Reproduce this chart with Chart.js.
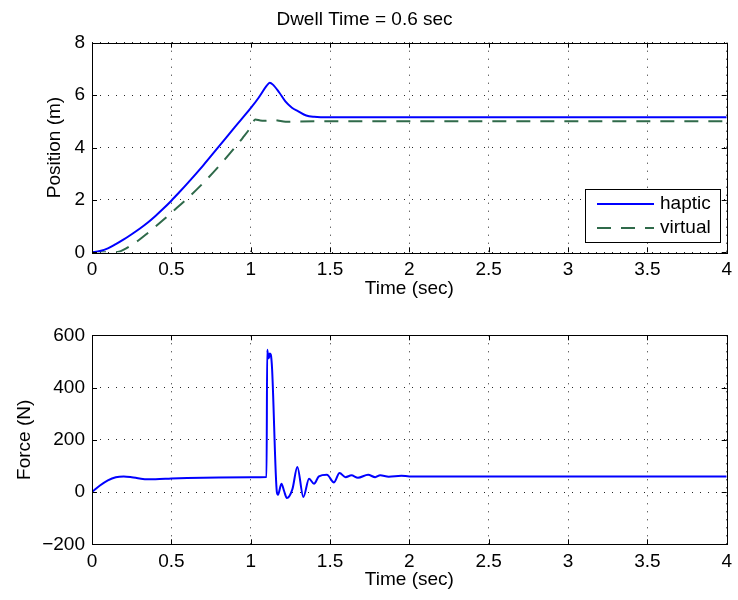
<!DOCTYPE html>
<html>
<head>
<meta charset="utf-8">
<script src="https://cdn.jsdelivr.net/npm/chart.js@4.4.1/dist/chart.umd.min.js"></script>
<style>
html,body{margin:0;padding:0;background:#fff;}
#wrap{position:relative;width:738px;height:600px;}
#c1{position:absolute;left:0;top:0;}
#c2{position:absolute;left:0;top:300px;}
</style>
</head>
<body>
<div id="wrap">
<canvas id="c1" width="738" height="300"></canvas>
<canvas id="c2" width="738" height="300"></canvas>
</div>
<script>
// ---- data ----
const chartTitle = "Dwell Time = 0.6 sec";
const seriesNames = ["haptic", "virtual"];
const xTickValues = [0, 0.5, 1, 1.5, 2, 2.5, 3, 3.5, 4];
const xTickLabels = ["0", "0.5", "1", "1.5", "2", "2.5", "3", "3.5", "4"];
const posTickValues = [0, 2, 4, 6, 8];
const posTickLabels = ["0", "2", "4", "6", "8"];
const forceTickValues = [-200, 0, 200, 400, 600];
const forceTickLabels = ["\u2212200", "0", "200", "400", "600"];

const hapticT   = [0, 0.05, 0.1, 0.15, 0.2, 0.25, 0.3, 0.35, 0.4, 0.45, 0.5, 0.55, 0.6, 0.7, 0.8, 0.9, 1.0, 1.05, 1.1, 1.12, 1.14, 1.18, 1.22, 1.26, 1.3, 1.35, 1.4, 1.5, 2, 3, 4];
const hapticPos = [0, 0.05, 0.15, 0.31, 0.49, 0.69, 0.9, 1.13, 1.39, 1.67, 1.97, 2.29, 2.62, 3.31, 4.04, 4.78, 5.5, 5.9, 6.35, 6.47, 6.4, 6.1, 5.75, 5.52, 5.38, 5.22, 5.17, 5.15, 5.15, 5.15, 5.15];

const virtualT   = [0, 0.1, 0.15, 0.176, 0.2, 0.25, 0.3, 0.35, 0.4, 0.45, 0.5, 0.6, 0.7, 0.8, 0.9, 0.95, 1.0, 1.03, 1.06, 1.09, 1.13, 1.17, 1.22, 1.3, 1.5, 2, 3, 4];
const virtualPos = [0, 0, 0, 0.03, 0.1, 0.28, 0.49, 0.73, 0.98, 1.24, 1.51, 2.05, 2.64, 3.29, 4.0, 4.37, 4.77, 5.07, 5.03, 5.02, 5.06, 5.03, 4.98, 4.99, 5.0, 5.0, 5.0, 5.0];

const forceT = [0, 0.05, 0.1, 0.15, 0.2, 0.25, 0.3, 0.35, 0.4, 0.5, 0.6, 0.8, 1.0, 1.1, 1.104, 1.11, 1.115, 1.12, 1.127, 1.135, 1.165, 1.172, 1.194, 1.21, 1.228, 1.263, 1.294, 1.332, 1.368, 1.399, 1.43, 1.48, 1.525, 1.56, 1.598, 1.635, 1.676, 1.74, 1.785, 1.816, 1.87, 1.95, 2.0, 3.0, 4.0];
const force  = [0, 25, 45, 57, 60, 57, 52, 49, 49, 52, 54, 56, 57, 58, 545, 520, 512, 530, 525, 470, 0, -10, 32, 5, -23, 11, 96, -19, 51, 32, 60, 66, 37, 73, 57, 64, 55, 66, 57, 64, 59, 62, 60, 60, 60];

// ---- helpers ----
const FONT = "'Liberation Sans', Arial, Helvetica, sans-serif";
Chart.defaults.font.family = FONT;
Chart.defaults.color = '#000';

function pts(xs, ys) { return xs.map((x, i) => ({x: x, y: ys[i]})); }

const boxPlugin = {
  id: 'matlabBox',
  afterDatasetsDraw(chart) {
    const ctx = chart.ctx, a = chart.chartArea;
    const xs = chart.scales.x, ys = chart.scales.y;
    ctx.save();
    ctx.setLineDash([]);
    ctx.strokeStyle = '#000';
    ctx.lineWidth = 1;
    ctx.strokeRect(Math.round(a.left) + 0.5, Math.round(a.top) + 0.5, Math.round(a.right - a.left), Math.round(a.bottom - a.top));
    const tl = 5;
    ctx.beginPath();
    xs.ticks.forEach(t => {
      const px = Math.round(xs.getPixelForValue(t.value)) + 0.5;
      ctx.moveTo(px, a.bottom); ctx.lineTo(px, a.bottom - tl);
      ctx.moveTo(px, a.top); ctx.lineTo(px, a.top + tl);
    });
    ys.ticks.forEach(t => {
      const py = Math.round(ys.getPixelForValue(t.value)) + 0.5;
      ctx.moveTo(a.left, py); ctx.lineTo(a.left + tl, py);
      ctx.moveTo(a.right, py); ctx.lineTo(a.right - tl, py);
    });
    ctx.stroke();

    const lg = chart.options.plugins.matlabBox && chart.options.plugins.matlabBox.legend;
    if (lg) {
      const bx = lg.x, by = lg.y, bw = lg.w, bh = lg.h;
      ctx.fillStyle = '#fff';
      ctx.fillRect(bx, by, bw, bh);
      ctx.strokeStyle = '#000';
      ctx.lineWidth = 1;
      ctx.strokeRect(bx + 0.5, by + 0.5, bw, bh);
      ctx.font = '19px ' + FONT;
      ctx.textBaseline = 'middle';
      ctx.textAlign = 'left';
      chart.data.datasets.forEach((ds, i) => {
        const yy = by + lg.rowY[i];
        ctx.strokeStyle = ds.borderColor;
        ctx.lineWidth = ds.borderWidth;
        ctx.setLineDash(ds.borderDash || []);
        ctx.beginPath();
        ctx.moveTo(bx + lg.lineX0, yy);
        ctx.lineTo(bx + lg.lineX1, yy);
        ctx.stroke();
        ctx.setLineDash([]);
        ctx.fillStyle = '#000';
        ctx.fillText(ds.label, bx + lg.textX, yy);
      });
    }
    ctx.restore();
  }
};

function xScale(heightPx, titlePadBottom) {
  return {
    type: 'linear', min: 0, max: 4,
    afterBuildTicks: (s) => { s.ticks = xTickValues.map(v => ({value: v})); },
    afterFit: (s) => { s.height = heightPx; },
    ticks: {
      font: {size: 19}, padding: 6, maxRotation: 0, autoSkip: false,
      callback: (v) => { const i = xTickValues.indexOf(v); return i >= 0 ? xTickLabels[i] : ''; }
    },
    grid: { color: 'rgba(0,0,0,0.85)', lineWidth: 1, drawTicks: false },
    border: { display: false, dash: [1, 7] },
    title: { display: true, text: 'Time (sec)', font: {size: 19}, padding: {top: 0, bottom: titlePadBottom} }
  };
}

function yScale(min, max, vals, labels, titleText, titlePadTop) {
  return {
    type: 'linear', min: min, max: max,
    afterBuildTicks: (s) => { s.ticks = vals.map(v => ({value: v})); },
    afterFit: (s) => { s.width = 92; },
    ticks: {
      font: {size: 19}, padding: 7, autoSkip: false,
      callback: (v) => { const i = vals.indexOf(v); return i >= 0 ? labels[i] : ''; }
    },
    grid: { color: 'rgba(0,0,0,0.85)', lineWidth: 1, drawTicks: false },
    border: { display: false, dash: [1, 7] },
    title: { display: true, text: titleText, font: {size: 19}, padding: {top: titlePadTop, bottom: 0} }
  };
}

// ---- top chart ----
new Chart(document.getElementById('c1'), {
  type: 'line',
  data: {
    datasets: [
      { label: seriesNames[0], data: pts(hapticT, hapticPos), borderColor: '#0000ff', borderWidth: 2, pointRadius: 0, cubicInterpolationMode: 'monotone', fill: false },
      { label: seriesNames[1], data: pts(virtualT, virtualPos), borderColor: '#2f6a4a', borderWidth: 2, borderDash: [14, 10], pointRadius: 0, cubicInterpolationMode: 'monotone', fill: false }
    ]
  },
  options: {
    responsive: false, animation: false, devicePixelRatio: 1,
    layout: { padding: { left: 0, right: 9, top: 0, bottom: 0 } },
    plugins: {
      legend: { display: false },
      tooltip: { enabled: false },
      title: { display: true, text: chartTitle, font: {size: 19, weight: 'normal'}, color: '#000', padding: {top: 8.6, bottom: 11.3} },
      matlabBox: { legend: { x: 585, y: 189, w: 135, h: 53, rowY: [15, 39], lineX0: 12, lineX1: 69, textX: 75 } }
    },
    scales: {
      x: xScale(47.7, 0),
      y: yScale(0, 8, posTickValues, posTickLabels, 'Position (m)', 43.6)
    }
  },
  plugins: [boxPlugin]
});

// ---- bottom chart ----
new Chart(document.getElementById('c2'), {
  type: 'line',
  data: {
    datasets: [
      { label: seriesNames[0], data: pts(forceT, force), borderColor: '#0000ff', borderWidth: 2, pointRadius: 0, cubicInterpolationMode: 'monotone', fill: false }
    ]
  },
  options: {
    responsive: false, animation: false, devicePixelRatio: 1,
    layout: { padding: { left: 0, right: 9, top: 35.3, bottom: 0 } },
    plugins: {
      legend: { display: false },
      tooltip: { enabled: false },
      title: { display: false },
      matlabBox: {}
    },
    scales: {
      x: xScale(55.7, 8.6),
      y: yScale(-200, 600, forceTickValues, forceTickLabels, 'Force (N)', 13.6)
    }
  },
  plugins: [boxPlugin]
});
</script>
</body>
</html>
